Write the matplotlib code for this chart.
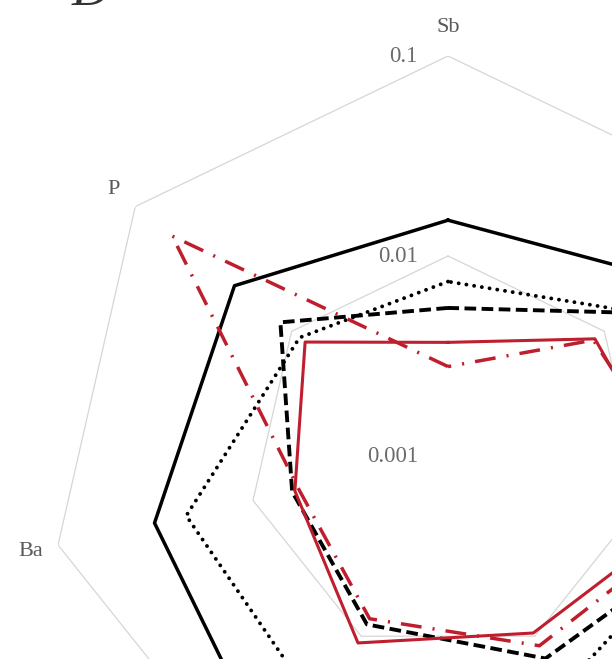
import numpy as np
import matplotlib.pyplot as plt

plt.rcParams['font.family'] = ['Liberation Serif', 'DejaVu Serif']

# element axes, counter-clockwise from the top
elements = ['Sb', 'P', 'Ba', 'Pb', 'Zn', 'Cu', 'As']

# concentrations per series (same order as elements)
solid_black = [0.0151, 0.0232, 0.032, 0.073, 0.05, 0.04, 0.026]
dotted_black = [0.00745, 0.0089, 0.022, 0.0275, 0.02, 0.025, 0.0145]
dashed_black = [0.0055, 0.0118, 0.0063, 0.0086, 0.0133, 0.0297, 0.0141]
solid_red = [0.0037, 0.0082, 0.0061, 0.0109, 0.0096, 0.018, 0.0087]
dashdot_red = [0.0028, 0.058, 0.0058, 0.008, 0.0113, 0.0214, 0.0085]

grid_levels = [0.1, 0.01]
tick_values = [0.1, 0.01, 0.001]
tick_labels = ['0.1', '0.01', '0.001']

W, H = 612, 659
fig = plt.figure(figsize=(W / 100, H / 100), dpi=100)

# polar axes centred at (448, 456) px with a 400 px radius
cx, cy, R = 448, 456, 400
ax = fig.add_axes([(cx - R) / W, (H - cy - R) / H, 2 * R / W, 2 * R / H],
                  projection='polar')
ax.set_theta_offset(np.pi / 2)
ax.set_rscale('log')
ax.set_rlim(0.001, 0.1)
ax.grid(False)
ax.spines['polar'].set_visible(False)
ax.set_xticks([])
ax.set_yticks([])
ax.patch.set_alpha(0)

n = len(elements)
theta = np.arange(n) * 2 * np.pi / n
theta_c = np.append(theta, theta[0])


def closed(vals):
    return np.append(vals, vals[0])


# polygon grid
for lvl in grid_levels:
    ax.plot(theta_c, [lvl] * (n + 1), color='#d6d6d6', lw=0.9, zorder=1)

ax.plot(theta_c, closed(solid_black), color='black', lw=2.5, zorder=3)
ax.plot(theta_c, closed(dotted_black), color='black', lw=2.8,
        linestyle=(0, (0.01, 2.0)), dash_capstyle='round', zorder=3)
ax.plot(theta_c, closed(dashed_black), color='black', lw=2.8,
        linestyle=(0, (3.0, 1.4)), zorder=3)
ax.plot(theta_c, closed(solid_red), color='#be1e2d', lw=2.2, zorder=4)
ax.plot(theta_c, closed(dashdot_red), color='#be1e2d', lw=2.5,
        linestyle=(0, (6.0, 3.2, 0.6, 3.2)), zorder=4)

# radial tick labels next to the top axis
for v, lab in zip(tick_values, tick_labels):
    ax.annotate(lab, xy=(0, v), xytext=(-30, 0), textcoords='offset pixels',
                ha='right', va='center', fontsize=16.5, color='#6b6b6b',
                annotation_clip=False)

# element labels outside the outer ring (only those that land on the canvas)
for t, name in zip(theta, elements):
    ang = t + np.pi / 2
    dx, dy = 28 * np.cos(ang), 28 * np.sin(ang)
    px, py = ax.transData.transform((t, 0.1))
    if not (0 < px + dx < W and 0 < py + dy < H):
        continue
    ax.annotate(name, xy=(t, 0.1), xytext=(dx, dy),
                textcoords='offset pixels', ha='center', va='center',
                fontsize=16, color='#595959', annotation_clip=False)

# panel letter
fig.text(72 / W, (H - 5) / H, 'D', fontsize=38, style='italic',
         color='#333333', ha='left', va='baseline')

fig.savefig('out.png', dpi=100)
